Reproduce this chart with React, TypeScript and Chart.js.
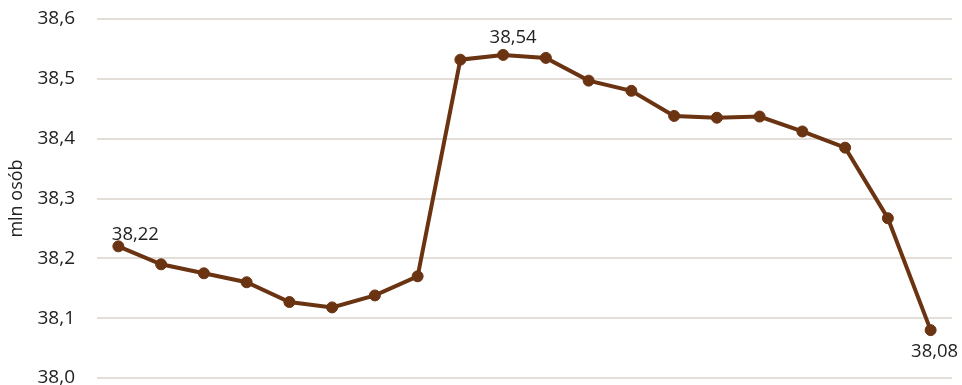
import React, { useEffect, useRef } from "react";
import { Chart, registerables } from "chart.js";

Chart.register(...registerables);

// Population, millions of persons, one point per period
const periods = [
  "1", "2", "3", "4", "5", "6", "7", "8", "9", "10",
  "11", "12", "13", "14", "15", "16", "17", "18", "19", "20",
];
const population = [
  38.22, 38.19, 38.175, 38.16, 38.127, 38.118, 38.138, 38.17, 38.532, 38.54,
  38.535, 38.497, 38.48, 38.438, 38.435, 38.437, 38.412, 38.385, 38.267, 38.08,
];
const yTicks = [38.0, 38.1, 38.2, 38.3, 38.4, 38.5, 38.6];
const labelledPoints = [0, 9, 19];

const FONT = "'Open Sans', 'DejaVu Sans', sans-serif";
const BROWN = "#6a3312";
const TEXT = "#222222";

const fmt = (v: number, digits: number) => v.toFixed(digits).replace(".", ",");

// Draws the value labels next to selected points
const pointLabels = {
  id: "pointLabels",
  afterDatasetsDraw(chart: any, _args: any, opts: any) {
    const meta = chart.getDatasetMeta(0);
    const ctx = chart.ctx;
    ctx.save();
    ctx.font = `18.5px ${FONT}`;
    ctx.fillStyle = TEXT;
    ctx.textAlign = "center";
    ctx.textBaseline = "alphabetic";
    opts.indices.forEach((idx: number, k: number) => {
      const el = meta.data[idx];
      const [dx, dy] = opts.offsets[k];
      ctx.fillText(fmt(population[idx], 2), el.x + dx, el.y + dy);
    });
    ctx.restore();
  },
};

export default function App() {
  const ref = useRef<HTMLCanvasElement | null>(null);

  useEffect(() => {
    if (!ref.current) return;
    const chart = new Chart(ref.current, {
      type: "line",
      data: {
        labels: periods,
        datasets: [
          {
            data: population,
            borderColor: BROWN,
            backgroundColor: BROWN,
            borderWidth: 4,
            pointRadius: 5.5,
            pointBackgroundColor: BROWN,
            pointBorderColor: BROWN,
            pointBorderWidth: 1,
            tension: 0,
          },
        ],
      },
      options: {
        animation: false,
        responsive: false,
        maintainAspectRatio: false,
        layout: { padding: { top: 19, right: 10, bottom: 22, left: 0 } },
        plugins: {
          legend: { display: false },
          tooltip: { enabled: false },
          pointLabels: {
            indices: labelledPoints,
            offsets: [
              [17, -6],
              [10, -12],
              [4, 27],
            ],
          },
        } as any,
        scales: {
          x: {
            type: "category",
            offset: true,
            display: false,
          },
          y: {
            min: 38.0,
            max: 38.6,
            afterBuildTicks: (axis: any) => {
              axis.ticks = yTicks.map((v) => ({ value: v }));
            },
            afterFit: (axis: any) => {
              // fixed axis box; the plot edges come from the layout padding only
              axis.width = 97;
              axis.paddingTop = 0;
              axis.paddingBottom = 0;
            },
            border: { display: false },
            grid: {
              color: "#e4ded8",
              lineWidth: 2,
              drawTicks: false,
            },
            ticks: {
              padding: 22,
              color: TEXT,
              font: { family: FONT, size: 19 },
              callback: (v: any) => fmt(Number(v), 1),
            },
            title: {
              display: true,
              text: "mln osób",
              color: TEXT,
              font: { family: FONT, size: 18 },
              padding: { top: 6, bottom: 0 },
            },
          },
        },
      },
      plugins: [pointLabels],
    });
    return () => chart.destroy();
  }, []);

  return (
    <div style={{ position: "absolute", left: 0, top: 0, width: 962, height: 400, background: "#fff" }}>
      <canvas ref={ref} width={962} height={400} style={{ display: "block" }} />
    </div>
  );
}
